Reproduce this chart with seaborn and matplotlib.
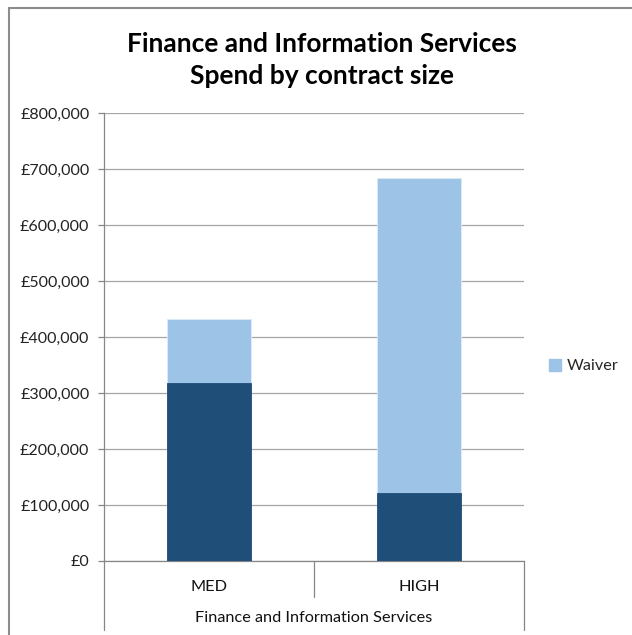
import matplotlib
matplotlib.use("Agg")
import matplotlib.pyplot as plt
from matplotlib.lines import Line2D
from matplotlib.patches import Patch
from matplotlib.ticker import FuncFormatter, MultipleLocator
import pandas as pd
import seaborn as sns

# Spend by contract size (GBP)
categories = ["MED", "HIGH"]
other_spend = [317500, 121000]
waiver_spend = [115000, 563000]
group_label = "Finance and Information Services"
title = "Finance and Information Services\nSpend by contract size"

DARK = "#1F4E79"
LIGHT = "#9DC3E6"
GRID = "#A6A6A6"
AXIS = "#868686"

sns.set_theme(style="white")
plt.rcParams["font.family"] = ["Lato", "DejaVu Sans"]

df = pd.DataFrame({
    "size": categories,
    "other": other_spend,
    "waiver": waiver_spend,
})
df["total"] = df["other"] + df["waiver"]

fig = plt.figure(figsize=(6.32, 6.35), dpi=100)
ax = fig.add_axes([104 / 632, 1 - 561 / 635, 420 / 632, 448 / 635])

# Stacked bars: full height in the light colour, lower segment over it
sns.barplot(data=df, x="size", y="total", order=categories, color=LIGHT,
            width=0.4, saturation=1, ax=ax, edgecolor="#DDEBF7", linewidth=0.6,
            zorder=3)
sns.barplot(data=df, x="size", y="other", order=categories, color=DARK,
            width=0.4, saturation=1, ax=ax, edgecolor=DARK, linewidth=0.6,
            zorder=4)

ax.set_xlim(-0.5, 1.5)
ax.set_ylim(0, 800000)
ax.yaxis.set_major_locator(MultipleLocator(100000))
ax.yaxis.set_major_formatter(FuncFormatter(lambda v, p: f"£{v:,.0f}"))
ax.grid(axis="y", color=GRID, linewidth=0.9, zorder=0)
ax.grid(axis="x", visible=False)
ax.set_axisbelow(True)

for side in ("top", "right"):
    ax.spines[side].set_visible(False)
for side in ("left", "bottom"):
    ax.spines[side].set_color(AXIS)
    ax.spines[side].set_linewidth(0.9)

ax.tick_params(axis="y", length=4.5, width=0.9, color=AXIS, pad=6,
               labelsize=11.5, labelcolor="#222222", left=True)
ax.tick_params(axis="x", length=0, pad=14, labelsize=11.7,
               labelcolor="#111111")
ax.set_xlabel("")
ax.set_ylabel("")

# Category separators below the axis and the group label
sep_tr = ax.get_xaxis_transform()
for xpos, depth in ((-0.5, -0.154), (0.5, -0.080), (1.5, -0.154)):
    ax.add_line(Line2D([xpos, xpos], [0, depth], transform=sep_tr,
                       color=AXIS, linewidth=0.9, clip_on=False))
ax.text(0.5, -0.128, group_label, transform=sep_tr, ha="center",
        va="center", fontsize=11.7, color="#111111")

fig.text(322 / 632, 1 - 59.5 / 635, title, ha="center", va="center",
         fontsize=19, fontweight="bold", linespacing=1.4, color="#000000")

legend_handles = [Patch(facecolor=LIGHT, edgecolor=LIGHT, label="Waiver")]
fig.legend(handles=legend_handles, loc="center left",
           bbox_to_anchor=(549 / 632, 1 - 366 / 635), frameon=False,
           fontsize=11.7, handlelength=0.75, handleheight=0.75,
           handletextpad=0.35, borderaxespad=0, borderpad=0)

# Chart area frame along the top and left edges
fig.add_artist(Line2D([8.5 / 632, 8.5 / 632], [0, 1 - 8 / 635],
                      transform=fig.transFigure, color="#8C8C8C",
                      linewidth=1.5))
fig.add_artist(Line2D([8.5 / 632, 1], [1 - 8 / 635, 1 - 8 / 635],
                      transform=fig.transFigure, color="#8C8C8C",
                      linewidth=1.5))

fig.savefig("out.png", dpi=100, facecolor="white")
